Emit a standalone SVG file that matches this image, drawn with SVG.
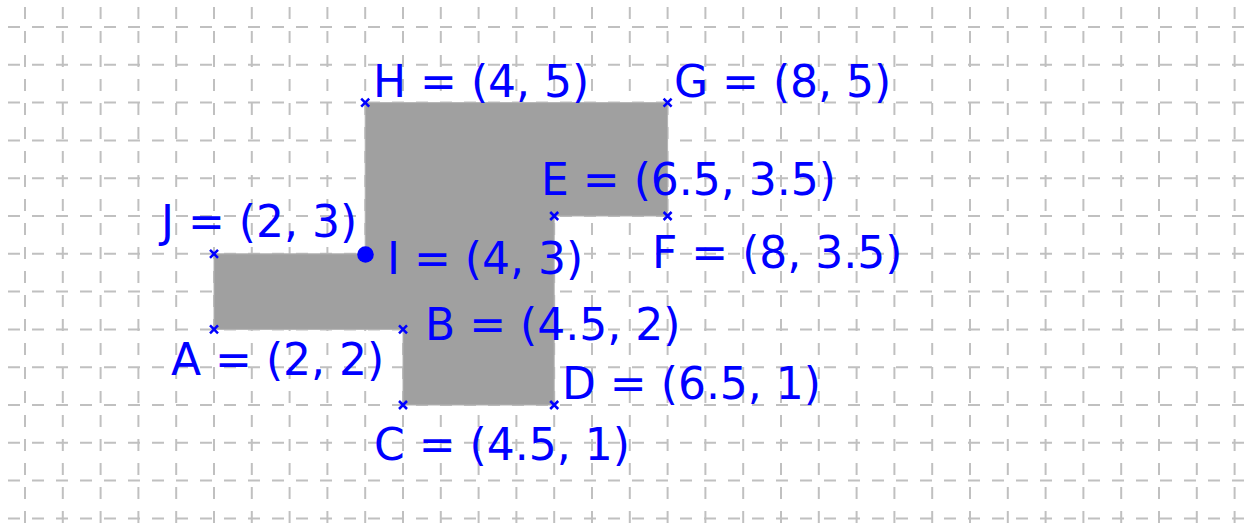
<svg xmlns="http://www.w3.org/2000/svg" xmlns:xlink="http://www.w3.org/1999/xlink" width="1250" height="524" viewBox="0 0 1250 524">
<style>
.grid line{stroke:#c0c0c0;stroke-width:2;stroke-dasharray:12 12;}
.lbl{font-family:"DejaVu Sans","Liberation Sans",sans-serif;font-size:44px;fill:#0000ff;}
.cross{stroke:#0000ff;stroke-width:2.5;fill:none;}
</style>
<defs>
<path id="x" class="cross" d="M-4,-4L4,4M-4,4L4,-4"/>
</defs>
<rect width="1250" height="524" fill="#ffffff"/>
<g id="grid" class="grid">
<line x1="8" y1="27" x2="1250" y2="27"/>
<line x1="8" y1="64.8" x2="1250" y2="64.8"/>
<line x1="8" y1="102.6" x2="1250" y2="102.6"/>
<line x1="8" y1="140.4" x2="1250" y2="140.4"/>
<line x1="8" y1="178.2" x2="1250" y2="178.2"/>
<line x1="8" y1="216" x2="1250" y2="216"/>
<line x1="8" y1="253.8" x2="1250" y2="253.8"/>
<line x1="8" y1="291.6" x2="1250" y2="291.6"/>
<line x1="8" y1="329.4" x2="1250" y2="329.4"/>
<line x1="8" y1="367.2" x2="1250" y2="367.2"/>
<line x1="8" y1="405" x2="1250" y2="405"/>
<line x1="8" y1="442.8" x2="1250" y2="442.8"/>
<line x1="8" y1="480.6" x2="1250" y2="480.6"/>
<line x1="8" y1="518.4" x2="1250" y2="518.4"/>
<line x1="25" y1="7" x2="25" y2="524"/>
<line x1="62.8" y1="7" x2="62.8" y2="524"/>
<line x1="100.6" y1="7" x2="100.6" y2="524"/>
<line x1="138.4" y1="7" x2="138.4" y2="524"/>
<line x1="176.2" y1="7" x2="176.2" y2="524"/>
<line x1="214" y1="7" x2="214" y2="524"/>
<line x1="251.8" y1="7" x2="251.8" y2="524"/>
<line x1="289.6" y1="7" x2="289.6" y2="524"/>
<line x1="327.4" y1="7" x2="327.4" y2="524"/>
<line x1="365.2" y1="7" x2="365.2" y2="524"/>
<line x1="403" y1="7" x2="403" y2="524"/>
<line x1="440.8" y1="7" x2="440.8" y2="524"/>
<line x1="478.6" y1="7" x2="478.6" y2="524"/>
<line x1="516.4" y1="7" x2="516.4" y2="524"/>
<line x1="554.2" y1="7" x2="554.2" y2="524"/>
<line x1="592" y1="7" x2="592" y2="524"/>
<line x1="629.8" y1="7" x2="629.8" y2="524"/>
<line x1="667.6" y1="7" x2="667.6" y2="524"/>
<line x1="705.4" y1="7" x2="705.4" y2="524"/>
<line x1="743.2" y1="7" x2="743.2" y2="524"/>
<line x1="781" y1="7" x2="781" y2="524"/>
<line x1="818.8" y1="7" x2="818.8" y2="524"/>
<line x1="856.6" y1="7" x2="856.6" y2="524"/>
<line x1="894.4" y1="7" x2="894.4" y2="524"/>
<line x1="932.2" y1="7" x2="932.2" y2="524"/>
<line x1="970" y1="7" x2="970" y2="524"/>
<line x1="1007.8" y1="7" x2="1007.8" y2="524"/>
<line x1="1045.6" y1="7" x2="1045.6" y2="524"/>
<line x1="1083.4" y1="7" x2="1083.4" y2="524"/>
<line x1="1121.2" y1="7" x2="1121.2" y2="524"/>
<line x1="1159" y1="7" x2="1159" y2="524"/>
<line x1="1196.8" y1="7" x2="1196.8" y2="524"/>
<line x1="1234.6" y1="7" x2="1234.6" y2="524"/>
</g>
<g id="connectors">
<polygon id="shape" points="214,253.8 365.2,253.8 365.2,102.6 667.6,102.6 667.6,216 554.2,216 554.2,405 403,405 403,329.4 214,329.4" fill="#a0a0a0" stroke="#b4b4b4" stroke-width="1"/>
</g>
<g id="A"><use xlink:href="#x" x="214" y="329.4"/><text class="lbl" x="171" y="375">A = (2, 2)</text></g>
<g id="B"><use xlink:href="#x" x="403" y="329.4"/><text class="lbl" x="425" y="340">B = (4.5, 2)</text></g>
<g id="C"><use xlink:href="#x" x="403" y="405"/><text class="lbl" x="374" y="460">C = (4.5, 1)</text></g>
<g id="D"><use xlink:href="#x" x="554.2" y="405"/><text class="lbl" x="562" y="399">D = (6.5, 1)</text></g>
<g id="E"><use xlink:href="#x" x="554.2" y="216"/><text class="lbl" x="541" y="195">E = (6.5, 3.5)</text></g>
<g id="F"><use xlink:href="#x" x="667.6" y="216"/><text class="lbl" x="652" y="268">F = (8, 3.5)</text></g>
<g id="G"><use xlink:href="#x" x="667.6" y="102.6"/><text class="lbl" x="674" y="97">G = (8, 5)</text></g>
<g id="H"><use xlink:href="#x" x="365.2" y="102.6"/><text class="lbl" x="373" y="97">H = (4, 5)</text></g>
<g id="I"><circle cx="365.5" cy="254.5" r="8.3" fill="#0000ff"/><text class="lbl" x="387" y="274">I = (4, 3)</text></g>
<g id="J"><use xlink:href="#x" x="214" y="253.8"/><text class="lbl" x="161" y="237">J = (2, 3)</text></g>
</svg>
